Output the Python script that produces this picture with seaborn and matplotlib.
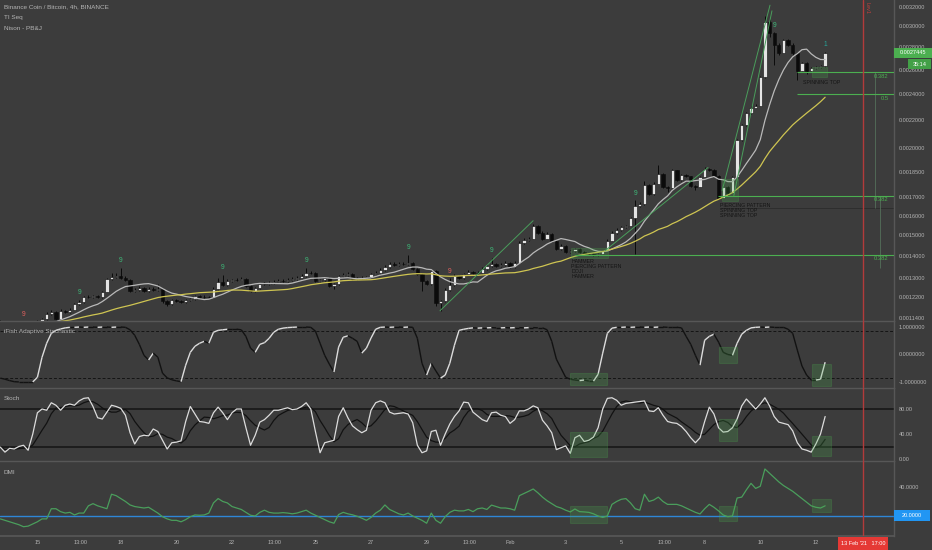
import numpy as np
import pandas as pd
import matplotlib
matplotlib.use('Agg')
import matplotlib.pyplot as plt
import seaborn as sns
from matplotlib.collections import LineCollection
from matplotlib.patches import Rectangle
from matplotlib.ticker import FixedLocator, FixedFormatter, NullLocator

# ---- data (prices in units of 1e-4 BTC) ----
first_bar = '2021-01-13 16:00'
origin = pd.Timestamp('2021-02-01')
first_open_e4 = 11.25

close_e4 = [
    11.20, 11.15, 11.10, 11.05, 11.00, 11.05, 11.10, 11.15, 11.25, 11.35,
    11.54, 11.62, 11.35, 11.66, 11.62, 11.70, 11.93, 12.01, 12.21, 12.21,
    12.25, 12.21, 12.42, 12.97, 13.06, 13.10, 13.01, 12.93, 12.46, 12.50,
    12.58, 12.46, 12.54, 12.50, 12.54, 12.05, 11.93, 12.09, 12.05, 12.01,
    12.09, 12.13, 12.25, 12.21, 12.21, 12.21, 12.54, 12.84, 12.71, 12.88,
    12.93, 12.93, 12.97, 12.67, 12.46, 12.58, 12.75, 12.75, 12.80, 12.84,
    12.88, 12.88, 12.93, 12.97, 13.01, 13.10, 13.23, 13.23, 12.88, 12.93,
    13.01, 12.67, 12.75, 13.10, 13.14, 13.19, 12.97, 13.01, 13.01, 13.06,
    13.19, 13.23, 13.36, 13.50, 13.63, 13.59, 13.63, 13.63, 13.68, 13.41,
    13.19, 12.88, 12.75, 13.32, 11.97, 12.05, 12.50, 12.71, 13.10, 13.01,
    13.19, 13.27, 13.23, 13.23, 13.41, 13.54, 13.63, 13.54, 13.59, 13.68,
    13.50, 13.68, 14.62, 14.77, 14.82, 15.47, 15.12, 14.82, 15.07, 14.72,
    14.33, 14.48, 14.19, 14.24, 14.33, 14.19, 14.09, 14.09, 14.05, 14.09,
    14.24, 14.72, 15.12, 15.27, 15.42, 15.47, 15.89, 16.54, 16.65, 17.74,
    17.21, 17.80, 18.40, 17.62, 17.51, 18.59, 17.98, 18.34, 18.22, 17.68,
    17.62, 18.16, 18.71, 18.59, 18.28, 16.99, 17.62, 17.27, 18.16, 20.54,
    21.60, 22.48, 22.90, 23.05, 25.34, 30.44, 29.34, 28.24, 27.50, 28.67,
    28.24, 27.50, 25.85, 26.60, 25.85, 26.10, 26.20, 26.30, 27.445,
]
high_e4 = [
    11.30, 11.24, 11.19, 11.14, 11.10, 11.25, 11.15, 11.20, 11.30, 11.40,
    11.60, 11.68, 11.66, 11.72, 11.70, 11.76, 11.98, 12.10, 12.26, 12.27,
    12.30, 12.30, 12.47, 13.02, 13.20, 13.22, 13.45, 13.08, 12.98, 12.56,
    12.64, 12.62, 12.60, 12.60, 12.75, 12.58, 12.10, 12.14, 12.13, 12.10,
    12.14, 12.18, 12.30, 12.29, 12.27, 12.26, 12.60, 13.00, 13.15, 12.94,
    12.98, 12.99, 13.03, 13.02, 12.72, 12.63, 12.80, 12.82, 12.86, 12.90,
    12.94, 12.94, 12.99, 13.03, 13.07, 13.16, 13.45, 13.30, 13.27, 12.98,
    13.06, 13.05, 12.80, 13.15, 13.20, 13.25, 13.23, 13.06, 13.07, 13.11,
    13.24, 13.29, 13.42, 13.56, 13.69, 13.70, 13.69, 13.70, 14.05, 13.72,
    13.46, 13.24, 12.93, 13.40, 13.36, 12.10, 12.56, 13.00, 13.16, 13.15,
    13.24, 13.33, 13.32, 13.30, 13.47, 13.60, 13.90, 13.68, 13.65, 13.74,
    13.72, 13.74, 14.68, 14.84, 14.90, 15.55, 15.52, 15.18, 15.13, 15.12,
    14.77, 14.54, 14.52, 14.29, 14.38, 14.37, 14.22, 14.14, 14.13, 14.14,
    14.29, 14.78, 15.18, 15.33, 15.48, 15.53, 15.95, 16.85, 16.72, 17.95,
    17.80, 17.86, 18.90, 18.46, 17.68, 18.66, 18.64, 18.40, 18.40, 18.28,
    17.74, 18.22, 18.78, 18.77, 18.65, 18.33, 17.68, 17.66, 18.22, 20.62,
    21.68, 22.56, 23.00, 23.15, 25.45, 31.10, 30.80, 29.45, 28.40, 28.80,
    28.75, 28.35, 27.60, 26.70, 26.68, 26.20, 26.28, 26.40, 27.60,
]
low_e4 = [
    11.12, 11.10, 11.05, 11.00, 10.95, 10.96, 11.02, 11.06, 11.12, 11.22,
    11.32, 11.50, 11.30, 11.33, 11.57, 11.58, 11.68, 11.90, 11.98, 12.15,
    12.16, 12.16, 12.18, 12.40, 12.92, 13.00, 12.96, 12.88, 12.40, 12.40,
    12.46, 12.42, 12.42, 12.45, 12.46, 11.98, 11.85, 11.88, 12.00, 11.96,
    11.98, 12.05, 12.10, 12.17, 12.15, 12.16, 12.18, 12.50, 12.66, 12.66,
    12.84, 12.88, 12.90, 12.62, 12.40, 12.42, 12.55, 12.70, 12.72, 12.76,
    12.80, 12.82, 12.84, 12.89, 12.93, 12.97, 13.06, 13.16, 12.82, 12.84,
    12.88, 12.60, 12.55, 12.70, 13.05, 13.10, 12.92, 12.93, 12.96, 12.97,
    13.02, 13.15, 13.19, 13.32, 13.46, 13.54, 13.55, 13.57, 13.58, 13.36,
    13.14, 12.46, 12.70, 12.70, 11.85, 11.66, 12.00, 12.46, 12.66, 12.96,
    12.97, 13.15, 13.18, 13.17, 13.19, 13.37, 13.50, 13.49, 13.50, 13.55,
    13.45, 13.46, 13.65, 14.58, 14.72, 14.78, 15.05, 14.76, 14.78, 14.66,
    14.27, 14.28, 14.14, 14.14, 14.18, 14.14, 14.04, 14.03, 14.00, 14.01,
    14.05, 14.20, 14.68, 15.07, 15.22, 15.37, 15.43, 14.10, 16.48, 16.60,
    17.15, 17.15, 17.75, 17.56, 17.30, 17.46, 17.92, 17.93, 18.16, 17.62,
    17.40, 17.58, 18.12, 18.53, 18.22, 16.90, 16.94, 17.10, 17.22, 18.12,
    20.48, 21.54, 22.42, 22.85, 23.00, 25.30, 29.00, 26.40, 27.30, 27.45,
    28.10, 27.30, 25.10, 25.75, 25.60, 25.78, 26.02, 26.12, 26.25,
]
ifish_vals = [
    -0.86, -0.90, -0.95, -0.99, -1.00, -1.00, -1.00, -1.00, -0.83, -0.10,
    0.41, 0.77, 0.88, 0.93, 0.97, 0.99, 0.99, 1.00, 0.99, 1.00,
    1.00, 0.99, 1.00, 1.00, 0.99, 1.00, 1.00, 0.99, 0.90, 0.70,
    0.37, -0.03, -0.20, 0.05, -0.10, -0.68, -0.85, -0.92, -0.96, -0.99,
    -0.39, 0.08, 0.30, 0.41, 0.48, 0.41, 0.81, 0.88, 0.90, 0.92,
    0.92, 0.92, 0.90, 0.66, 0.23, 0.08, 0.37, 0.43, 0.59, 0.81,
    0.92, 0.96, 0.98, 0.99, 1.00, 1.00, 1.00, 0.99, 0.85, 0.41,
    -0.03, -0.35, -0.64, 0.27, 0.63, 0.68, 0.59, 0.48, 0.05, 0.23,
    0.60, 0.92, 0.99, 1.00, 0.99, 1.00, 1.00, 0.99, 1.00, 0.99,
    0.59, -0.32, -0.75, -0.32, -0.60, -0.86, -0.75, -0.32, 0.34, 0.88,
    0.92, 0.95, 0.97, 0.96, 0.97, 0.97, 0.98, 0.97, 0.97, 0.98,
    0.97, 0.98, 0.98, 0.97, 0.98, 0.98, 0.97, 0.97, 0.90, 0.48,
    -0.17, -0.50, -0.83, -0.90, -0.93, -0.95, -0.93, -0.97, -0.97, -0.72,
    0.05, 0.77, 0.96, 0.99, 0.99, 1.00, 0.99, 1.00, 1.00, 0.99,
    1.00, 0.99, 1.00, 1.00, 0.99, 0.99, 0.99, 0.97, 0.66, 0.37,
    -0.03, -0.39, 0.52, 0.66, 0.74, 0.45, 0.08, 0.00, -0.03, 0.41,
    0.74, 0.88, 0.97, 0.99, 1.00, 0.99, 1.00, 0.99, 0.99, 0.99,
    0.92, 0.77, 0.16, -0.42, -0.75, -0.93, -0.93, -0.90, -0.28,
]
stoch_k = [
    19, 11, 17, 16, 20, 22, 14, 40, 74, 80,
    78, 90, 86, 78, 86, 88, 86, 93, 97, 98,
    84, 66, 64, 75, 86, 84, 81, 70, 42, 24,
    36, 38, 37, 48, 44, 30, 16, 26, 27, 29,
    60, 84, 72, 60, 59, 57, 74, 83, 74, 63,
    74, 80, 80, 50, 22, 38, 59, 63, 70, 78,
    78, 80, 82, 79, 80, 84, 90, 80, 44, 10,
    26, 28, 30, 68, 82, 66, 53, 47, 42, 46,
    78, 90, 93, 90, 75, 72, 73, 74, 72, 58,
    22, 10, 13, 44, 46, 22, 40, 56, 68, 77,
    91, 90, 75, 69, 63, 60, 74, 75, 70, 68,
    57, 63, 77, 77, 80, 85, 82, 62, 53, 42,
    15, 18, 21, 9, 34, 38, 28, 30, 35, 50,
    80, 97, 98, 94, 86, 89, 90, 91, 92, 93,
    77, 76, 82, 70, 60, 58, 57, 52, 44, 34,
    26, 34, 60, 83, 72, 50, 43, 44, 50, 64,
    85, 96, 88, 80, 88, 98, 85, 68, 59, 57,
    55, 45, 26, 16, 14, 11, 24, 40, 68,
]
dmi_vals = [
    18, 17, 16, 15, 14, 12.6, 13, 14.5, 16, 18,
    18, 25, 25, 23, 22, 22.5, 20.7, 22, 22, 27,
    28.5, 27, 26, 25, 35, 34, 32, 30, 27.6, 26.5,
    26, 25.5, 26, 24, 22, 19.5, 18, 17, 17, 16,
    17.5, 19.5, 20.7, 20.5, 20.7, 22, 29, 32, 30, 29,
    26.5, 25.5, 24.5, 22.5, 20.5, 20, 22.5, 24, 22.5, 22,
    22, 22.3, 22, 21.5, 22, 23, 24, 22, 20.5, 19,
    17.5, 16, 15, 21, 22.5, 21.5, 20.8, 19.8, 18.5, 17,
    19, 22, 24, 27.6, 24.5, 23, 21.5, 20.7, 22, 20,
    18.5, 17, 15, 22, 17, 15, 19.5, 22.5, 24, 23.5,
    23.5, 24.5, 23, 25, 25.5, 24.5, 27.5, 26.5, 25.5, 25.5,
    25, 24, 34, 35.5, 37, 38.6, 36, 33, 30.5, 28.5,
    26.5, 25.5, 24, 22.8, 24.8, 23, 22.8, 22.5, 21.5, 20,
    19, 20, 28, 30, 31.5, 32, 29, 25, 24, 35,
    30, 31, 33, 30, 28, 28, 28, 27, 25.5, 24,
    22.5, 21.4, 25, 28, 26, 23.5, 20.7, 19.5, 20, 32.4,
    33, 38, 42.5, 39, 40.5, 52.4, 49.5, 46.5, 43.5, 41,
    39, 37, 34.5, 32, 29.5, 27, 26, 25.5, 27,
]

# TD sequential counts (bar index, label, colour key)
td_bars = [5, 17, 26, 48, 66, 88, 97, 106, 137, 167, 178]
td_labels = ['9', '9', '9', '9', '9', '9', '9', '9', '9', '9', '1']
td_kind = ['sell', 'buy', 'buy', 'buy', 'buy', 'buy', 'sell', 'buy', 'buy', 'buy', 'new']

# fibonacci levels (start day from Feb 1, price e-4, label)
fib_start = [10.32, 10.32, 7.48, 2.34]
fib_price_e4 = [25.77, 23.95, 17.10, 14.05]
fib_labels = ['0.382', '0.5', '0.382', '0.382']

# trend lines: (day0, price0, day1, price1)
trend_lines = [(-2.52, 11.66, 0.83, 15.73), (3.42, 14.24, 7.12, 18.77),
               (7.63, 17.39, 9.35, 32.2), (8.05, 17.10, 9.42, 31.6)]

# candle pattern boxes (day0, day1, low, high) per panel
main_boxes = [(2.19, 3.53, 13.91, 14.38), (7.63, 8.20, 16.77, 18.04), (10.86, 11.40, 25.34, 26.20)]
ifish_boxes = [(2.16, 3.49, -1.12, -0.68), (7.52, 8.17, -0.32, 0.27), (10.86, 11.55, -1.15, -0.35)]
stoch_boxes = [(2.16, 3.49, 3.2, 43.2), (7.52, 8.17, 28.8, 64), (10.86, 11.55, 4.8, 36.8)]
dmi_boxes = [(2.16, 3.49, 15.2, 26.9), (7.52, 8.17, 16.6, 26.9), (10.86, 11.55, 22.8, 31.7)]
pattern_notes = [(2.20, 13.86, 'HAMMER\nPIERCING PATTERN\nDOJI\nHAMMER'),
                 (7.55, 16.70, 'PIERCING PATTERN\nSPINNING TOP\nSPINNING TOP'),
                 (10.52, 25.10, 'SPINNING TOP')]

tick_dates = ['2021-01-15', '2021-01-16 13:00', '2021-01-18', '2021-01-20', '2021-01-22',
              '2021-01-23 13:00', '2021-01-25', '2021-01-27', '2021-01-29', '2021-01-30 13:00',
              '2021-02-01', '2021-02-03', '2021-02-05', '2021-02-06 13:00', '2021-02-08',
              '2021-02-10', '2021-02-12']
tick_labels = ['15', '13:00', '18', '20', '22', '13:00', '25', '27', '29', '13:00',
               'Feb', '3', '5', '13:00', '8', '10', '12']
cursor_date = '2021-02-13 17:00'

main_ticks = [0.0032, 0.0030, 0.0028, 0.0026, 0.0024, 0.0022, 0.0020, 0.00185,
              0.0017, 0.0016, 0.0015, 0.0014, 0.0013, 0.00122, 0.00114]

# ---- derived ----
times = pd.date_range(first_bar, periods=len(close_e4), freq='4h')
days = ((times - origin) / pd.Timedelta(days=1)).to_numpy()
close = np.array(close_e4) * 1e-4
high = np.array(high_e4) * 1e-4
low = np.array(low_e4) * 1e-4
open_ = np.r_[first_open_e4 * 1e-4, close[:-1]]
sma_fast = pd.Series(close).rolling(10, min_periods=1).mean().to_numpy()
sma_slow = pd.Series(close).rolling(28, min_periods=1).mean().to_numpy()
stoch_d = pd.Series(stoch_k, dtype=float).rolling(5, min_periods=1).mean().to_numpy()
ticks_x = [(pd.Timestamp(t) - origin) / pd.Timedelta(days=1) for t in tick_dates]
cursor_x = (pd.Timestamp(cursor_date) - origin) / pd.Timedelta(days=1)

# ---- style ----
BG = '#3c3c3c'
SEP = '#575757'
TXT = '#b4b4b4'
GREEN = '#4caf50'
sns.set_theme(style='dark', rc={'axes.facecolor': BG, 'figure.facecolor': BG})
plt.rcParams['font.family'] = ['Liberation Sans', 'DejaVu Sans']

W, H = 932, 550
fig = plt.figure(figsize=(W / 100, H / 100), dpi=100)
PW = 894 / W
ax_main = fig.add_axes([0, 229 / H, PW, 321 / H])
ax_if = fig.add_axes([0, 162 / H, PW, 67 / H])
ax_st = fig.add_axes([0, 89 / H, PW, 73 / H])
ax_dm = fig.add_axes([0, 14 / H, PW, 75 / H])
axes = [ax_main, ax_if, ax_st, ax_dm]

xmin, xmax = -18.345, 13.81
for ax in axes:
    ax.set_facecolor(BG)
    ax.set_xlim(xmin, xmax)
    ax.set_xticks(ticks_x)
    ax.set_xlabel('')
    ax.set_ylabel('')
    for s in ['left', 'bottom']:
        ax.spines[s].set_visible(False)
    for s in ['top', 'right']:
        ax.spines[s].set_color(SEP)
        ax.spines[s].set_linewidth(1.0)
    ax.yaxis.tick_right()
    ax.tick_params(axis='y', length=0, pad=3.5, labelsize=4, colors=TXT)
    ax.tick_params(axis='x', length=0, labelbottom=False)
    ax.axvline(cursor_x, color='#b23b3b', lw=1.0, zorder=6)
ax_main.spines['top'].set_visible(False)
ax_dm.spines['bottom'].set_visible(True)
ax_dm.spines['bottom'].set_color(SEP)
ax_dm.tick_params(axis='x', length=1.5, width=0.6, color='#777777', pad=1.5,
                  labelbottom=True, labelsize=4, labelcolor=TXT)
ax_dm.set_xticklabels(tick_labels)

# ---- main price panel ----
ax_main.set_yscale('log')
ax_main.set_ylim(0.001127, 0.003276)
ax_main.yaxis.set_major_locator(FixedLocator(main_ticks))
ax_main.yaxis.set_major_formatter(FixedFormatter(['%.7f' % v for v in main_ticks]))
ax_main.yaxis.set_minor_locator(NullLocator())

up = close >= open_
ax_main.vlines(days, low, high, color='#0b0b0b', lw=0.7, zorder=3)
body_lo = np.minimum(open_, close)
body_hi = np.maximum(open_, close)
ax_main.bar(days, body_hi - body_lo, bottom=body_lo, width=0.12,
            color=np.where(up, '#e4e4e4', '#0b0b0b'), edgecolor='#0b0b0b',
            linewidth=0.4, zorder=4)

sns.lineplot(x=days, y=sma_fast, ax=ax_main, color='#b9b9b9', lw=0.9, estimator=None, zorder=5)
sns.lineplot(x=days, y=sma_slow, ax=ax_main, color='#cfc552', lw=0.9, estimator=None, zorder=5)

for d0, p0, d1, p1 in trend_lines:
    ax_main.plot([d0, d1], [p0 * 1e-4, p1 * 1e-4], color='#4a9e5c', lw=0.7, zorder=5)

for st, p, lab in zip(fib_start, fib_price_e4, fib_labels):
    ax_main.hlines(p * 1e-4, st, xmax, color=GREEN, lw=0.8, zorder=5)
    ax_main.annotate(lab, (13.62, p * 1e-4), xytext=(0, -4), textcoords='offset pixels',
                     ha='right', va='center', fontsize=4.2, color=GREEN)
ax_main.hlines(16.43e-4, 7.55, xmax, color='#2e2e2e', lw=0.7, zorder=2)
ax_main.vlines(13.13, 16.43e-4, 25.77e-4, color='#55705a', lw=0.6, zorder=2)
ax_main.vlines(13.31, 13.45e-4, 17.10e-4, color='#55705a', lw=0.6, zorder=2)

for d0, d1, lo, hi in main_boxes:
    ax_main.add_patch(Rectangle((d0, lo * 1e-4), d1 - d0, (hi - lo) * 1e-4,
                                facecolor=GREEN, alpha=0.22, edgecolor=GREEN, lw=0.8, zorder=6))
for d0, p, txt in pattern_notes:
    ax_main.text(d0, p * 1e-4, txt, fontsize=3.8, color='#151515', va='top', ha='left',
                 linespacing=1.05, zorder=7)

td_colors = {'sell': '#e0605e', 'buy': '#3cb878', 'new': '#26a69a'}
for i, lab, k in zip(td_bars, td_labels, td_kind):
    ax_main.annotate(lab, (days[i], high[i]), xytext=(0, 7), textcoords='offset pixels',
                     ha='center', va='center', fontsize=4.8, color=td_colors[k],
                     annotation_clip=False, zorder=7)

ax_main.text(cursor_x + 0.14, 0.00325, 'Lev1', rotation=-90, fontsize=4, color='#c0403c',
             va='top', ha='center')

# ---- iFish panel ----
ax_if.set_ylim(-1.22, 1.22)
ax_if.set_yticks([1.0, 0.0, -1.0])
ax_if.set_yticklabels(['1.0000000', '0.0000000', '-1.0000000'])
for lv in [0.87, -0.87]:
    ax_if.axhline(lv, color='#141414', lw=0.7, ls=(0, (3, 2)), zorder=2)
iv = np.array(ifish_vals)
pts = np.column_stack([days, iv])
segs = np.stack([pts[:-1], pts[1:]], axis=1)
seg_cols = np.where(np.diff(iv) > 0, '#dcdcdc', '#121212')
ax_if.add_collection(LineCollection(segs, colors=seg_cols, linewidths=1.0, zorder=4))
for d0, d1, lo, hi in ifish_boxes:
    ax_if.add_patch(Rectangle((d0, lo), d1 - d0, hi - lo, facecolor=GREEN, alpha=0.22,
                              edgecolor=GREEN, lw=0.8, zorder=5))

# ---- Stoch panel ----
ax_st.set_ylim(-3.2, 113.6)
ax_st.set_yticks([80, 40, 0])
ax_st.set_yticklabels(['80.00', '40.00', '0.00'])
for lv in [80, 20]:
    ax_st.axhline(lv, color='#141414', lw=1.1, zorder=2)
sns.lineplot(x=days, y=stoch_d, ax=ax_st, color='#121212', lw=0.9, estimator=None, zorder=3)
sns.lineplot(x=days, y=np.array(stoch_k, dtype=float), ax=ax_st, color='#dcdcdc', lw=0.9,
             estimator=None, zorder=4)
for d0, d1, lo, hi in stoch_boxes:
    ax_st.add_patch(Rectangle((d0, lo), d1 - d0, hi - lo, facecolor=GREEN, alpha=0.22,
                              edgecolor=GREEN, lw=0.8, zorder=5))

# ---- DMI panel ----
ax_dm.set_ylim(6.2, 57.9)
ax_dm.set_yticks([40])
ax_dm.set_yticklabels(['40.0000'])
ax_dm.axhline(20, color='#2e86d6', lw=1.0, zorder=2)
sns.lineplot(x=days, y=np.array(dmi_vals, dtype=float), ax=ax_dm, color='#4a9e5c', lw=0.9,
             estimator=None, zorder=3)
for d0, d1, lo, hi in dmi_boxes:
    ax_dm.add_patch(Rectangle((d0, lo), d1 - d0, hi - lo, facecolor=GREEN, alpha=0.22,
                              edgecolor=GREEN, lw=0.8, zorder=5))


# ---- labels / tags ----
def fig_box(x0, y0, x1, y1, color, text, tcolor='white', size=4):
    fig.add_artist(Rectangle((x0 / W, 1 - y1 / H), (x1 - x0) / W, (y1 - y0) / H,
                             transform=fig.transFigure, facecolor=color, edgecolor='none', zorder=10))
    fig.text((x0 + x1) / 2 / W, 1 - (y0 + y1) / 2 / H, text, ha='center', va='center',
             fontsize=size, color=tcolor, zorder=11)


fig_box(894, 48, 932, 58, GREEN, '%.7f' % close[-1])
fig_box(908, 59, 931, 69, '#43a047', '35:14')
fig_box(894, 510, 930, 521, '#2196f3', '20.0000')
fig_box(838, 537, 888, 550, '#e53935', "13 Feb '21   17:00")

for y, t in [(7, 'Binance Coin / Bitcoin, 4h, BINANCE'), (18, 'TI Seq'), (29, 'Nison - PB&J'),
             (331, 'iFish Adaptive Stochastic'), (399, 'Stoch'), (472, 'DMI')]:
    fig.text(4 / W, 1 - y / H, t, fontsize=4.6, color=TXT, va='center', ha='left')

fig.savefig('out.png', dpi=100, facecolor=BG)
